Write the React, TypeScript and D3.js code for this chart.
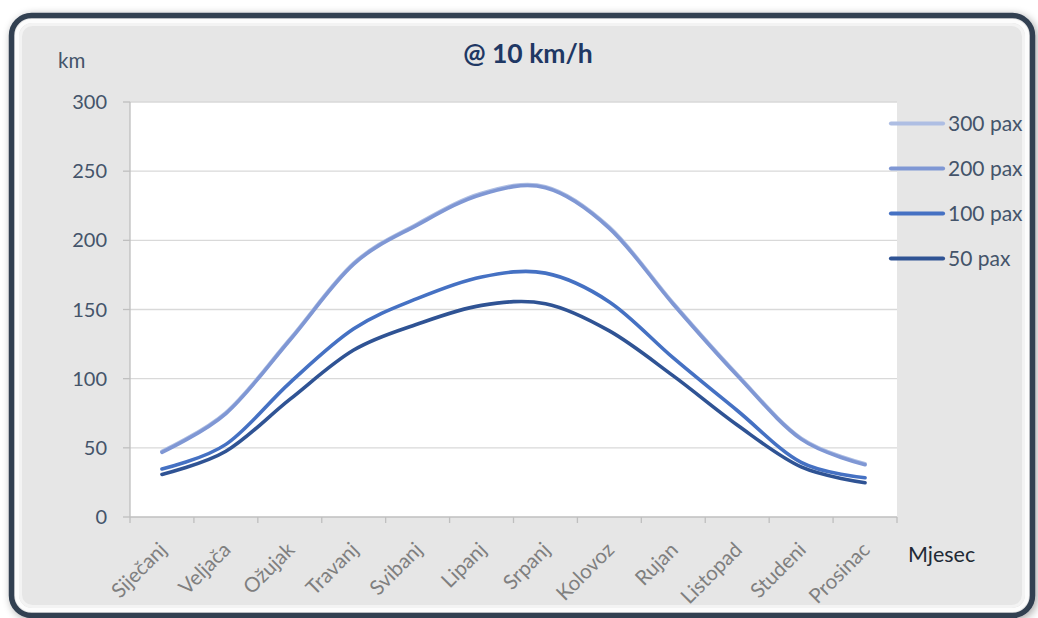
import React from 'react';
import * as d3 from 'd3';

const months = ['Siječanj', 'Veljača', 'Ožujak', 'Travanj', 'Svibanj', 'Lipanj', 'Srpanj', 'Kolovoz', 'Rujan', 'Listopad', 'Studeni', 'Prosinac'];
const pax300 = [47.5, 75.5, 128.5, 183.5, 212, 234, 238.8, 209.5, 154.5, 103, 57, 38.5];
const pax200 = [46.8, 74.8, 127.8, 182.8, 211.2, 233.2, 238, 208.7, 153.8, 102.3, 56.3, 37.8];
const pax100 = [34.7, 52.5, 97, 136, 158, 173.5, 176.3, 155.5, 115, 77, 39.5, 28.4];
const pax50 = [30.8, 47.5, 85, 120.7, 139.5, 153, 154.2, 134.5, 102, 66.5, 36.2, 24.8];
const yTicks = [0, 50, 100, 150, 200, 250, 300];

const seriesList = [
  { name: '300 pax', values: pax300, color: '#AEBEE3' },
  { name: '200 pax', values: pax200, color: '#7F97D4' },
  { name: '100 pax', values: pax100, color: '#4571C3' },
  { name: '50 pax', values: pax50, color: '#2F5394' },
];

const FONT = 'Lato, "Open Sans", sans-serif';

export default function App() {
  const W = 1038, H = 618;
  const left = 130, right = 897, top = 102, bottom = 517;
  const x = d3.scaleBand<string>().domain(months).range([left, right]);
  const y = d3.scaleLinear().domain([0, 300]).range([bottom, top]);
  const line = d3.line<number>()
    .x((_, i) => (x(months[i]) as number) + x.bandwidth() / 2)
    .y((d) => y(d))
    .curve(d3.curveCardinal.tension(0));
  const tickXs = months.map((m) => x(m) as number).concat([right]);

  return (
    <svg width={W} height={H} style={{ position: 'fixed', left: 0, top: 0, background: '#fff' }}>
      <defs>
        <filter id="sh" x="-5%" y="-5%" width="110%" height="110%">
          <feGaussianBlur in="SourceAlpha" stdDeviation="4" />
          <feOffset dx="2" dy="2" result="b" />
          <feComponentTransfer><feFuncA type="linear" slope="0.35" /></feComponentTransfer>
          <feMerge><feMergeNode /><feMergeNode in="SourceGraphic" /></feMerge>
        </filter>
      </defs>
      <rect x={11.5} y={15.5} width={1021} height={600} rx={20} fill="#E6E6E6" stroke="#323F51" strokeWidth={5.5} filter="url(#sh)" />
      <rect x={17} y={21} width={1010} height={589} rx={15} fill="none" stroke="#ffffff" strokeOpacity={0.85} strokeWidth={4} />
      <rect x={20.5} y={24.5} width={1003} height={582} rx={12} fill="none" stroke="#f3f3f3" strokeWidth={3} />

      <rect x={left} y={top} width={right - left} height={bottom - top} fill="#ffffff" />
      {yTicks.map((t) => (
        <g key={t}>
          {t > 0 && <line x1={left} x2={right} y1={y(t)} y2={y(t)} stroke="#D9D9D9" strokeWidth={1.3} />}
          <line x1={left - 7} x2={left} y1={y(t)} y2={y(t)} stroke="#BFBFBF" strokeWidth={1.3} />
          <text x={107} y={y(t)} dy="0.35em" textAnchor="end" fontFamily={FONT} fontSize={20} fill="#44546A">{t}</text>
        </g>
      ))}
      <line x1={left} x2={left} y1={top} y2={bottom} stroke="#BFBFBF" strokeWidth={1.3} />
      <line x1={left} x2={right} y1={bottom} y2={bottom} stroke="#BFBFBF" strokeWidth={1.3} />
      {tickXs.map((tx, i) => (
        <line key={i} x1={tx} x2={tx} y1={bottom} y2={bottom + 6} stroke="#BFBFBF" strokeWidth={1.3} />
      ))}
      {months.map((m) => {
        const cx = (x(m) as number) + x.bandwidth() / 2;
        return (
          <text key={m} transform={`translate(${cx + 1},${bottom + 29}) rotate(-45)`} textAnchor="end" dy="0.35em"
            fontFamily={FONT} fontSize={20.5} fill="#7F7F7F">{m}</text>
        );
      })}

      {seriesList.map((s) => (
        <path key={s.name} d={line(s.values) as string} fill="none" stroke={s.color} strokeWidth={3.6} strokeLinecap="round" strokeLinejoin="round" />
      ))}

      {seriesList.map((s, i) => {
        const ly = 123.5 + i * 45;
        return (
          <g key={s.name}>
            <line x1={891} x2={943} y1={ly} y2={ly} stroke={s.color} strokeWidth={4.2} strokeLinecap="round" />
            <text x={948} y={ly} dy="0.35em" fontFamily={FONT} fontSize={21} fill="#44546A">{s.name}</text>
          </g>
        );
      })}

      <text x={528} y={63} textAnchor="middle" fontFamily={FONT} fontWeight="bold" fontSize={26.5} fill="#1F3864">@ 10 km/h</text>
      <text x={58} y={68} fontFamily={FONT} fontSize={20.5} fill="#44546A">km</text>
      <text x={908} y={562} fontFamily={FONT} fontSize={21.5} fill="#222A35">Mjesec</text>
    </svg>
  );
}
